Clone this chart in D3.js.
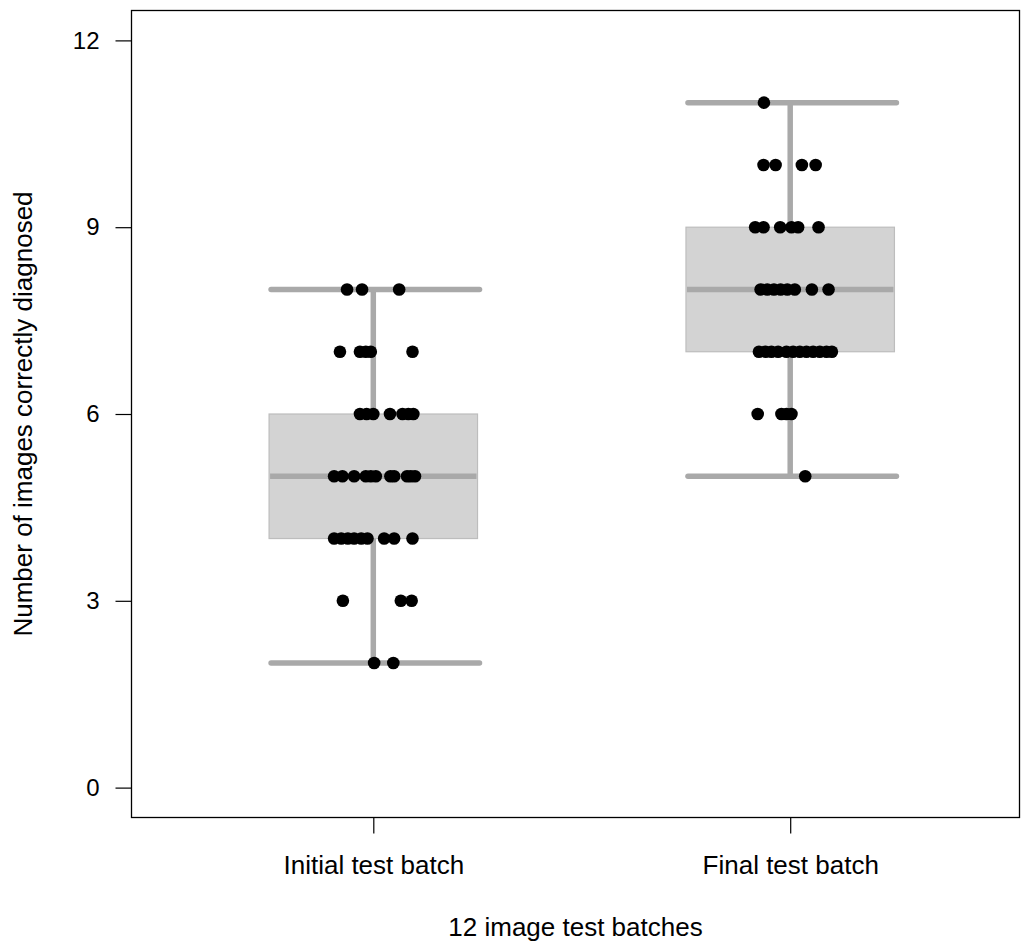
<!DOCTYPE html>
<html>
<head>
<meta charset="utf-8">
<script src="https://cdn.jsdelivr.net/npm/d3@7"></script>
<style>
  html, body { margin: 0; padding: 0; background: #ffffff; }
  svg { display: block; }
  text { font-family: "Liberation Sans", Arial, Helvetica, sans-serif; fill: #000; }
</style>
</head>
<body>
<svg id="chart" width="1026" height="942"></svg>
<script>
// ---------------- DATA ----------------
const categories = ["Initial test batch", "Final test batch"];
const yTicks = [0, 3, 6, 9, 12];
const xTitle = "12 image test batches";
const yTitle = "Number of images correctly diagnosed";

// scores (number of images correctly diagnosed) per participant
const initialScores = [
  8, 8, 8,
  7, 7, 7, 7, 7,
  6, 6, 6, 6, 6, 6, 6,
  5, 5, 5, 5, 5, 5, 5, 5, 5, 5, 5,
  4, 4, 4, 4, 4, 4, 4, 4, 4,
  3, 3, 3,
  2, 2
];
// horizontal jitter (in category units)
const initialJitter = [
  -0.063, -0.027, 0.062,
  -0.080, -0.032, -0.018, -0.006, 0.094,
  -0.032, -0.016, 0.000, 0.040, 0.070, 0.084, 0.096,
  -0.094, -0.074, -0.046, -0.018, -0.006, 0.006, 0.041, 0.050, 0.081, 0.090, 0.100,
  -0.094, -0.077, -0.061, -0.046, -0.029, -0.014, 0.026, 0.050, 0.094,
  -0.073, 0.066, 0.092,
  0.002, 0.048
];

const finalScores = [
  11,
  10, 10, 10, 10,
  9, 9, 9, 9, 9, 9,
  8, 8, 8, 8, 8, 8, 8, 8,
  7, 7, 7, 7, 7, 7, 7, 7, 7, 7, 7, 7,
  6, 6, 6, 6,
  5
];
const finalJitter = [
  -0.063,
  -0.064, -0.035, 0.028, 0.061,
  -0.084, -0.064, -0.024, 0.003, 0.019, 0.068,
  -0.071, -0.055, -0.039, -0.023, -0.007, 0.011, 0.052, 0.092,
  -0.075, -0.059, -0.045, -0.029, -0.009, 0.007, 0.023, 0.039, 0.055, 0.071, 0.087, 0.100,
  -0.078, -0.021, -0.009, 0.003,
  0.036
];

// ---------------- LAYOUT ----------------
const plot = { left: 131.5, right: 1019.5, top: 10.5, bottom: 817.5 };
const svg = d3.select("#chart");

const x = d3.scaleLinear().domain([0.42, 2.55]).range([plot.left, plot.right]);
const y = d3.scaleLinear().domain([-0.48, 12.48]).range([plot.bottom, plot.top]);

const groups = [
  { pos: 1, scores: initialScores, jitter: initialJitter },
  { pos: 2, scores: finalScores, jitter: finalJitter }
];

function stats(values) {
  const s = values.slice().sort(d3.ascending);
  const q1 = d3.quantile(s, 0.25), med = d3.quantile(s, 0.5), q3 = d3.quantile(s, 0.75);
  const iqr = q3 - q1;
  const lo = d3.min(s.filter(v => v >= q1 - 1.5 * iqr));
  const hi = d3.max(s.filter(v => v <= q3 + 1.5 * iqr));
  return { q1, med, q3, lo, hi };
}

const halfW = 0.25;
const boxFill = "#d3d3d3", boxStroke = "#bdbdbd", lineGrey = "#a9a9a9";

const g = svg.append("g");
groups.forEach(grp => {
  const st = stats(grp.scores);
  const xl = x(grp.pos - halfW), xr = x(grp.pos + halfW), xc = x(grp.pos);
  // box
  g.append("rect")
    .attr("x", xl).attr("y", y(st.q3))
    .attr("width", xr - xl).attr("height", y(st.q1) - y(st.q3))
    .attr("fill", boxFill).attr("stroke", boxStroke).attr("stroke-width", 1.2);
  // median
  g.append("line")
    .attr("x1", xl + 1).attr("x2", xr - 1)
    .attr("y1", y(st.med)).attr("y2", y(st.med))
    .attr("stroke", lineGrey).attr("stroke-width", 5.5);
  // whiskers
  [[st.q3, st.hi], [st.q1, st.lo]].forEach(([a, b]) => {
    g.append("line")
      .attr("x1", xc).attr("x2", xc)
      .attr("y1", y(a)).attr("y2", y(b))
      .attr("stroke", lineGrey).attr("stroke-width", 5.5);
    g.append("line")
      .attr("x1", xl + 2).attr("x2", xr + 2)
      .attr("y1", y(b)).attr("y2", y(b))
      .attr("stroke", lineGrey).attr("stroke-width", 5.5)
      .attr("stroke-linecap", "round");
  });
  // points
  g.selectAll(null)
    .data(grp.scores.map((v, i) => ({ v, j: grp.jitter[i] })))
    .enter().append("circle")
    .attr("cx", d => x(grp.pos + d.j))
    .attr("cy", d => y(d.v))
    .attr("r", 6.3)
    .attr("fill", "#000");
});

// frame
svg.append("rect")
  .attr("x", plot.left).attr("y", plot.top)
  .attr("width", plot.right - plot.left).attr("height", plot.bottom - plot.top)
  .attr("fill", "none").attr("stroke", "#000").attr("stroke-width", 1.3);

// y axis
const yAxis = d3.axisLeft(y).tickValues(yTicks).tickSize(16).tickPadding(16).tickFormat(d3.format("d"));
const ya = svg.append("g").attr("transform", `translate(${plot.left},0)`).call(yAxis);
ya.select(".domain").remove();
ya.selectAll(".tick line").attr("stroke", "#000").attr("stroke-width", 1.2);
ya.selectAll(".tick text").attr("font-size", 24).attr("font-family", "Liberation Sans, Arial, sans-serif").attr("fill", "#000");

// x axis
const xAxis = d3.axisBottom(x).tickValues([1, 2]).tickSize(16).tickPadding(22)
  .tickFormat((d, i) => categories[i]);
const xa = svg.append("g").attr("transform", `translate(0,${plot.bottom})`).call(xAxis);
xa.select(".domain").remove();
xa.selectAll(".tick line").attr("stroke", "#000").attr("stroke-width", 1.2);
xa.selectAll(".tick text").attr("font-size", 26).attr("font-family", "Liberation Sans, Arial, sans-serif").attr("fill", "#000");

// titles
svg.append("text")
  .attr("x", (plot.left + plot.right) / 2).attr("y", 936)
  .attr("text-anchor", "middle").attr("font-size", 26)
  .text(xTitle);
svg.append("text")
  .attr("transform", `translate(32,${(plot.top + plot.bottom) / 2}) rotate(-90)`)
  .attr("text-anchor", "middle").attr("font-size", 26)
  .text(yTitle);
</script>
</body>
</html>
